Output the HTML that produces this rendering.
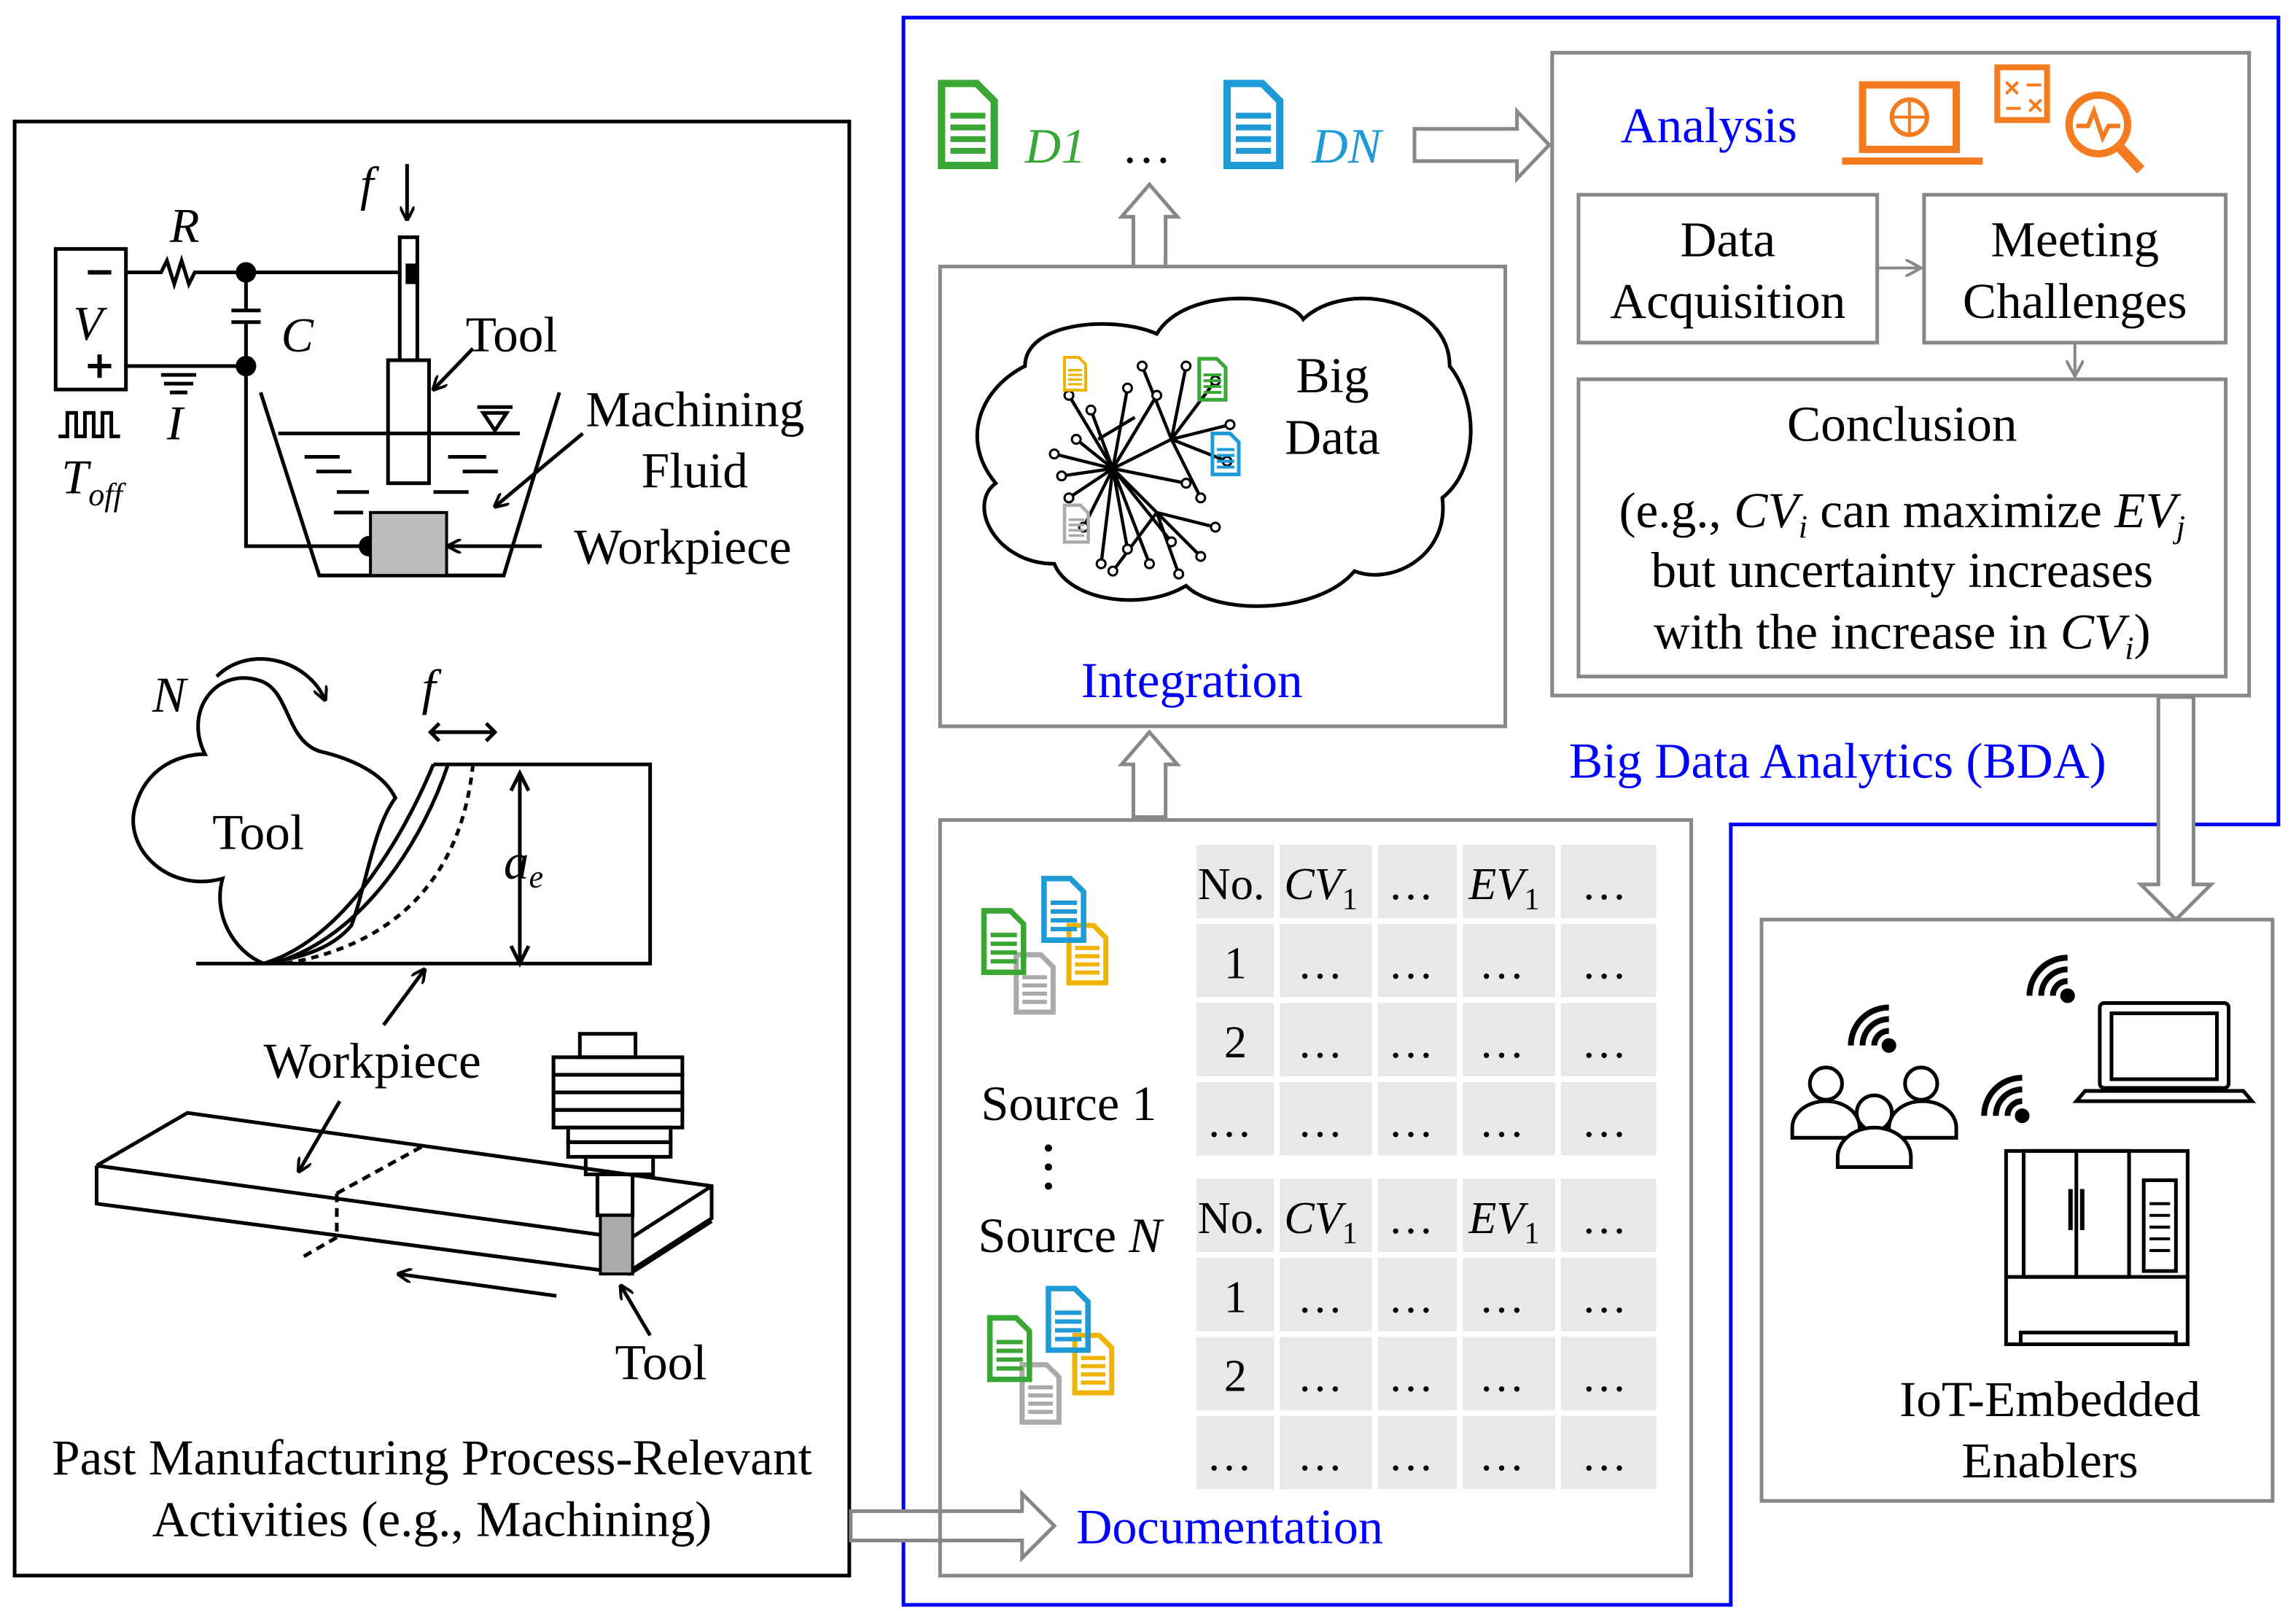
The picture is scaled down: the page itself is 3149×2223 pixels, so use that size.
<!DOCTYPE html>
<html><head><meta charset="utf-8"><style>
html,body{margin:0;padding:0;background:#fff}
svg{display:block}
text{font-family:"Liberation Serif",serif}
</style></head><body>
<svg width="3149" height="2223" viewBox="0 0 1568 1107" preserveAspectRatio="none" xmlns="http://www.w3.org/2000/svg">
<defs>
<marker id="ah" markerWidth="10" markerHeight="10" refX="9" refY="5" orient="auto" markerUnits="userSpaceOnUse"><path d="M0,0 L10,5 L0,10" fill="none" stroke="#000" stroke-width="2"/></marker>
<marker id="ag" markerWidth="12" markerHeight="12" refX="11" refY="6" orient="auto" markerUnits="userSpaceOnUse"><path d="M0,0 L11,6 L0,12" fill="none" stroke="#888" stroke-width="2"/></marker>
<g id="doc"><path d="M0,0 H24 L36,12 V56 H0 Z" fill="none" stroke-width="5"/><path d="M6,22H30M6,30H30M6,38H30M6,46H30" stroke-width="4"/></g>
<g id="wifi" fill="none" stroke="#000" stroke-width="4"><circle cx="0" cy="0" r="3" fill="#000"/><path d="M0,-10 A10,10 0 0 1 10,0"/><path d="M0,-18 A18,18 0 0 1 18,0"/><path d="M0,-26 A26,26 0 0 1 26,0"/></g>
</defs>

<rect x="10" y="83" width="570" height="993" fill="none" stroke="#000" stroke-width="2.5"/>
<path d="M617,12 H1556 V563 H1182 V1096 H617 Z" fill="none" stroke="#00f" stroke-width="2.5"/>

<!-- circuit -->
<g stroke="#000" stroke-width="2.5" fill="none">
<rect x="38" y="170" width="48" height="96"/>
<path d="M86,186 H110 l4,-8 l5,16 l5,-16 l5,16 l4,-8 H168 H272"/>
<path d="M86,250 H168 M168,186 V212 M158,212 H178 M158,220 H178 M168,220 V250 V373 H250"/>
<path d="M110,256 H134 M112,262 H132 M116,268 H128"/>
<path d="M40,298 H46 V282 H52 V298 H58 V282 H64 V298 H70 V282 H76 V298 H82"/>
<rect x="273" y="162" width="12" height="84"/>
<rect x="265" y="246" width="28" height="84"/>
<path d="M278,112 V150" marker-end="url(#ah)"/>
<path d="M178,268 L218,393 H344 L382,268"/>
<path d="M190,296 H355"/>
<path d="M208,312H232 M216,322H240 M230,336H252 M306,312H332 M316,322H340 M296,336H320 M228,350H248"/>
<path d="M330,282 L338,294 L346,282 Z M326,278H350"/>
<path d="M323,238 L296,266" marker-end="url(#ah)"/>
<path d="M398,296 L338,346" marker-end="url(#ah)"/>
<path d="M370,373 H306" marker-end="url(#ah)"/>
</g>
<path d="M60,186H76 M60,250H76 M68,242V258" stroke="#000" stroke-width="3"/>
<circle cx="168" cy="186" r="7"/><circle cx="168" cy="250" r="7"/><circle cx="252" cy="373" r="7"/>
<rect x="277" y="180" width="8" height="14"/>
<rect x="253" y="350" width="52" height="43" fill="#bbb" stroke="#000" stroke-width="2"/>
<g font-size="33" font-style="italic">
<text x="116" y="165">R</text><text x="246" y="137">f</text><text x="50" y="232">V</text><text x="192" y="240">C</text><text x="114" y="300">I</text>
<text x="42" y="337">T<tspan font-size="22" dy="8">off</tspan></text>
</g>
<g font-size="34.5"><text x="318" y="240">Tool</text><text x="400" y="291">Machining</text><text x="438" y="333">Fluid</text><text x="392" y="385">Workpiece</text></g>

<!-- milling -->
<g stroke="#000" stroke-width="2.5" fill="none">
<path d="M134,658 H444 V522 H296"/>
<path d="M180,658 C240,640 280,560 296,522 M186,658 C250,640 290,570 306,522"/>
<path d="M195,658 C270,645 315,600 323,522" stroke-dasharray="5,4"/>
<path d="M180,658 C160,650 145,625 152,600 C115,610 85,580 92,552 C100,522 125,515 140,515 C125,485 148,455 178,465 C198,472 195,505 218,513 C240,518 262,528 270,545 C255,565 250,605 240,632 C225,650 200,655 180,658 Z"/>
<path d="M148,462 C170,440 210,450 222,478" marker-end="url(#ah)"/>
<path d="M296,500 H336 M300,494 L294,500 L300,506 M332,494 L338,500 L332,506"/>
<path d="M355,530 V656" /><path d="M349,540 L355,528 L361,540 M349,646 L355,658 L361,646"/>
<path d="M262,700 L290,662" marker-end="url(#ah)"/>
<path d="M66,796 L128,760 L486,810 L486,832 L430,868 M66,796 L66,822 L430,870 L486,834 M66,796 L430,846 L486,810 M430,846 V870"/>
<path d="M230,815 V845 L204,860 M230,815 L290,782" stroke-dasharray="6,4"/>
<path d="M232,752 L204,800" marker-end="url(#ah)"/>
<path d="M380,885 L272,870" marker-end="url(#ah)"/>
<path d="M444,912 L424,878" marker-end="url(#ah)"/>
<rect x="396" y="706" width="38" height="16"/>
<rect x="378" y="722" width="88" height="12"/><rect x="378" y="734" width="88" height="12"/><rect x="378" y="746" width="88" height="12"/><rect x="378" y="758" width="88" height="12"/>
<rect x="388" y="770" width="70" height="10"/><rect x="388" y="780" width="70" height="10"/><rect x="400" y="790" width="46" height="12"/>
<rect x="408" y="802" width="24" height="28"/>
</g>
<rect x="410" y="830" width="22" height="40" fill="#aaa" stroke="#000" stroke-width="2"/>
<g font-size="34.5"><text x="145" y="580">Tool</text><text x="180" y="736">Workpiece</text><text x="420" y="942">Tool</text>
<text x="104" y="486" font-style="italic">N</text><text x="288" y="481" font-style="italic">f</text><text x="344" y="600" font-style="italic">a<tspan font-size="22" dy="6">e</tspan></text>
<text x="295" y="1007" text-anchor="middle">Past Manufacturing Process-Relevant</text>
<text x="295" y="1049" text-anchor="middle">Activities (e.g., Machining)</text></g>

<!-- hollow arrows -->
<g fill="#fff" stroke="#888" stroke-width="2.5">
<path d="M581,1032 H698 V1020 L720,1042 L698,1064 V1052 H581 Z"/>
<path d="M774,558 V522 H766 L785,500 L804,522 H796 V558 Z"/>
<path d="M774,182 V148 H766 L785,126 L804,148 H796 V182 Z"/>
<path d="M966,88 H1036 V76 L1058,99 L1036,122 V110 H966 Z"/>
<path d="M1474,476 V604 H1462 L1486,628 L1510,604 H1498 V476 Z"/>
</g>

<use href="#doc" x="643" y="57" stroke="#3aa635"/><use href="#doc" x="838" y="57" stroke="#1e9ad6"/>
<text x="700" y="111" font-size="34" font-style="italic" fill="#3aa635">D1</text>
<text x="766" y="111" font-size="34">…</text>
<text x="896" y="111" font-size="34" font-style="italic" fill="#1e9ad6">DN</text>

<!-- integration -->
<rect x="642" y="182" width="386" height="314" fill="none" stroke="#888" stroke-width="2.5"/>
<path d="M700,250 C700,220 760,215 790,228 C810,195 880,200 890,218 C920,190 990,205 990,250 C1010,275 1010,320 985,340 C990,380 950,400 925,390 C900,420 830,420 810,400 C780,418 730,410 720,385 C680,385 660,345 680,330 C655,300 670,265 700,250 Z" fill="none" stroke="#000" stroke-width="2.5"/>
<g stroke="#000" stroke-width="2.2">
<path d="M760,320 L730,270 M760,320 L745,280 M760,320 L770,265 M760,320 L790,270 M760,320 L730,340 M760,320 L740,360 M760,320 L770,375 M760,320 L800,370 M760,320 L810,330 M760,320 L720,310 M760,320 L735,300 M760,320 L725,325 M760,320 L752,385 M760,320 L785,385 M800,300 L830,260 M800,300 L840,290 M800,300 L820,340 M800,300 L780,250 M800,300 L810,250 M800,300 L838,315 M790,350 L820,380 M790,350 L760,390 M790,350 L830,360 M790,350 L805,392 M775,285 L750,300 M760,320 L800,300 M760,320 L790,350"/>
</g>
<g fill="#fff" stroke="#000" stroke-width="1.5"><circle cx="730" cy="270" r="3"/><circle cx="745" cy="280" r="3"/><circle cx="770" cy="265" r="3"/><circle cx="790" cy="270" r="3"/><circle cx="730" cy="340" r="3"/><circle cx="740" cy="360" r="3"/><circle cx="770" cy="375" r="3"/><circle cx="800" cy="370" r="3"/><circle cx="810" cy="330" r="3"/><circle cx="720" cy="310" r="3"/><circle cx="830" cy="260" r="3"/><circle cx="840" cy="290" r="3"/><circle cx="820" cy="340" r="3"/><circle cx="780" cy="250" r="3"/><circle cx="820" cy="380" r="3"/><circle cx="760" cy="390" r="3"/><circle cx="830" cy="360" r="3"/><circle cx="735" cy="300" r="3"/><circle cx="725" cy="325" r="3"/><circle cx="752" cy="385" r="3"/><circle cx="785" cy="385" r="3"/><circle cx="810" cy="250" r="3"/><circle cx="838" cy="315" r="3"/><circle cx="805" cy="392" r="3"/></g>
<use href="#doc" transform="translate(727,244) scale(0.4)" stroke="#f0b400"/>
<use href="#doc" transform="translate(819,245) scale(0.5)" stroke="#3aa635"/>
<use href="#doc" transform="translate(828,296) scale(0.5)" stroke="#1e9ad6"/>
<use href="#doc" transform="translate(727,345) scale(0.45)" stroke="#aaa"/>
<g font-size="34.5"><text x="910" y="268" text-anchor="middle">Big</text><text x="910" y="310" text-anchor="middle">Data</text>
<text x="814" y="476" text-anchor="middle" fill="#00f">Integration</text>
<text x="1255" y="531" text-anchor="middle" fill="#00f">Big Data Analytics (BDA)</text></g>

<!-- analysis -->
<rect x="1060" y="36" width="476" height="439" fill="none" stroke="#888" stroke-width="2.5"/>
<rect x="1078" y="133" width="204" height="101" fill="none" stroke="#888" stroke-width="2.5"/>
<rect x="1314" y="133" width="206" height="101" fill="none" stroke="#888" stroke-width="2.5"/>
<rect x="1078" y="259" width="442" height="203" fill="none" stroke="#888" stroke-width="2.5"/>
<path d="M1282,183 H1312" stroke="#888" stroke-width="2" marker-end="url(#ag)"/>
<path d="M1417,234 V257" stroke="#888" stroke-width="2" marker-end="url(#ag)"/>
<g font-size="34.5" text-anchor="middle">
<text x="1167" y="97" fill="#00f">Analysis</text>
<text x="1180" y="175">Data</text><text x="1180" y="217">Acquisition</text>
<text x="1417" y="175">Meeting</text><text x="1417" y="217">Challenges</text>
<text x="1299" y="301">Conclusion</text>
<text x="1299" y="360">(e.g., <tspan font-style="italic">CV<tspan font-size="22" dy="7">i</tspan></tspan><tspan dy="-7"> can maximize </tspan><tspan font-style="italic">EV<tspan font-size="22" dy="7">j</tspan></tspan></text>
<text x="1299" y="401">but uncertainty increases</text>
<text x="1299" y="443">with the increase in <tspan font-style="italic">CV<tspan font-size="22" dy="7">i</tspan></tspan><tspan dy="-7">)</tspan></text>
</g>
<g fill="none" stroke="#f47b20" stroke-width="5">
<rect x="1272" y="58" width="64" height="44"/><path d="M1258,110 H1354"/><circle cx="1304" cy="80" r="12" stroke-width="3"/><path d="M1292,80H1316 M1304,68V92" stroke-width="2"/>
<rect x="1364" y="46" width="34" height="36" stroke-width="4"/>
<path d="M1370,56 l8,8 m0,-8 l-8,8 M1384,58 H1394 M1370,74 H1380 M1386,68 l8,8 m0,-8 l-8,8" stroke-width="2"/>
<circle cx="1433" cy="85" r="20"/><path d="M1447,100 L1462,116" stroke-width="7"/>
<path d="M1418,86 H1426 L1430,76 L1436,94 L1440,86 H1448" stroke-width="3"/>
</g>

<!-- documentation -->
<rect x="642" y="560" width="513" height="516" fill="none" stroke="#888" stroke-width="2.5"/>
<g fill="#e8e8e8">
<rect x="817" y="577" width="53" height="50"/><rect x="874" y="577" width="63" height="50"/><rect x="941" y="577" width="54" height="50"/><rect x="999" y="577" width="63" height="50"/><rect x="1066" y="577" width="65" height="50"/>
<rect x="817" y="631" width="53" height="50"/><rect x="874" y="631" width="63" height="50"/><rect x="941" y="631" width="54" height="50"/><rect x="999" y="631" width="63" height="50"/><rect x="1066" y="631" width="65" height="50"/>
<rect x="817" y="685" width="53" height="50"/><rect x="874" y="685" width="63" height="50"/><rect x="941" y="685" width="54" height="50"/><rect x="999" y="685" width="63" height="50"/><rect x="1066" y="685" width="65" height="50"/>
<rect x="817" y="739" width="53" height="50"/><rect x="874" y="739" width="63" height="50"/><rect x="941" y="739" width="54" height="50"/><rect x="999" y="739" width="63" height="50"/><rect x="1066" y="739" width="65" height="50"/>
<rect x="817" y="805" width="53" height="50"/><rect x="874" y="805" width="63" height="50"/><rect x="941" y="805" width="54" height="50"/><rect x="999" y="805" width="63" height="50"/><rect x="1066" y="805" width="65" height="50"/>
<rect x="817" y="859" width="53" height="50"/><rect x="874" y="859" width="63" height="50"/><rect x="941" y="859" width="54" height="50"/><rect x="999" y="859" width="63" height="50"/><rect x="1066" y="859" width="65" height="50"/>
<rect x="817" y="913" width="53" height="50"/><rect x="874" y="913" width="63" height="50"/><rect x="941" y="913" width="54" height="50"/><rect x="999" y="913" width="63" height="50"/><rect x="1066" y="913" width="65" height="50"/>
<rect x="817" y="967" width="53" height="50"/><rect x="874" y="967" width="63" height="50"/><rect x="941" y="967" width="54" height="50"/><rect x="999" y="967" width="63" height="50"/><rect x="1066" y="967" width="65" height="50"/>
</g>
<g font-size="31">
<text x="818" y="614">No.</text><text x="877" y="614" font-style="italic">CV<tspan font-size="21" dy="7" font-style="normal">1</tspan></text><text x="948" y="614">…</text><text x="1003" y="614" font-style="italic">EV<tspan font-size="21" dy="7" font-style="normal">1</tspan></text><text x="1080" y="614">…</text>
<text x="836" y="668">1</text><text x="886" y="668">…</text><text x="948" y="668">…</text><text x="1010" y="668">…</text><text x="1080" y="668">…</text>
<text x="836" y="722">2</text><text x="886" y="722">…</text><text x="948" y="722">…</text><text x="1010" y="722">…</text><text x="1080" y="722">…</text>
<text x="824" y="776">…</text><text x="886" y="776">…</text><text x="948" y="776">…</text><text x="1010" y="776">…</text><text x="1080" y="776">…</text>
<text x="818" y="842">No.</text><text x="877" y="842" font-style="italic">CV<tspan font-size="21" dy="7" font-style="normal">1</tspan></text><text x="948" y="842">…</text><text x="1003" y="842" font-style="italic">EV<tspan font-size="21" dy="7" font-style="normal">1</tspan></text><text x="1080" y="842">…</text>
<text x="836" y="896">1</text><text x="886" y="896">…</text><text x="948" y="896">…</text><text x="1010" y="896">…</text><text x="1080" y="896">…</text>
<text x="836" y="950">2</text><text x="886" y="950">…</text><text x="948" y="950">…</text><text x="1010" y="950">…</text><text x="1080" y="950">…</text>
<text x="824" y="1004">…</text><text x="886" y="1004">…</text><text x="948" y="1004">…</text><text x="1010" y="1004">…</text><text x="1080" y="1004">…</text>
</g>
<g font-size="34">
<text x="670" y="765">Source 1</text>
<text x="668" y="855">Source <tspan font-style="italic">N</tspan></text>
<text x="735" y="1054" fill="#00f">Documentation</text>
</g>
<circle cx="716" cy="784" r="2.5"/><circle cx="716" cy="797" r="2.5"/><circle cx="716" cy="810" r="2.5"/>
<g>
<use href="#doc" transform="translate(694,652) scale(0.7)" stroke="#aaa"/>
<use href="#doc" transform="translate(730,632) scale(0.7)" stroke="#f0b400"/>
<use href="#doc" transform="translate(672,622) scale(0.75)" stroke="#3aa635"/>
<use href="#doc" transform="translate(713,600) scale(0.75)" stroke="#1e9ad6"/>
<use href="#doc" transform="translate(698,932) scale(0.7)" stroke="#aaa"/>
<use href="#doc" transform="translate(734,912) scale(0.7)" stroke="#f0b400"/>
<use href="#doc" transform="translate(676,900) scale(0.75)" stroke="#3aa635"/>
<use href="#doc" transform="translate(716,880) scale(0.75)" stroke="#1e9ad6"/>
</g>

<!-- IoT -->
<rect x="1203" y="628" width="349" height="397" fill="none" stroke="#888" stroke-width="2.5"/>
<g fill="none" stroke="#000" stroke-width="2.5">
<circle cx="1247" cy="740" r="11"/><path d="M1224,777 V770 A23,18 0 0 1 1270,770 V777 Z"/>
<circle cx="1312" cy="740" r="11"/><path d="M1290,777 V770 A23,18 0 0 1 1336,770 V777 Z"/>
<circle cx="1280" cy="760" r="12" fill="#fff"/><path d="M1255,797 V790 A25,20 0 0 1 1305,790 V797 Z" fill="#fff"/>
<rect x="1434" y="685" width="88" height="58" rx="3"/><rect x="1442" y="692" width="72" height="45"/><path d="M1418,752 H1538 L1532,745 H1424 Z"/>
<rect x="1370" y="786" width="124" height="132"/><rect x="1382" y="786" width="72" height="86"/><path d="M1418,786 V872 M1370,872 H1494 M1380,918 V910 H1486 V918"/>
<path d="M1414,812V840 M1422,812V840" stroke-width="3"/>
<rect x="1464" y="806" width="22" height="62"/>
<path d="M1468,822H1482 M1468,830H1482 M1468,838H1482 M1468,846H1482 M1468,854H1482" stroke-width="2"/>
</g>
<use href="#wifi" x="1290" y="714" transform="rotate(-90 1290 714)"/>
<use href="#wifi" x="1412" y="680" transform="rotate(-90 1412 680)"/>
<use href="#wifi" x="1381" y="762" transform="rotate(-90 1381 762)"/>
<g font-size="34.5" text-anchor="middle"><text x="1400" y="967">IoT-Embedded</text><text x="1400" y="1009">Enablers</text></g>
</svg>
</body></html>
